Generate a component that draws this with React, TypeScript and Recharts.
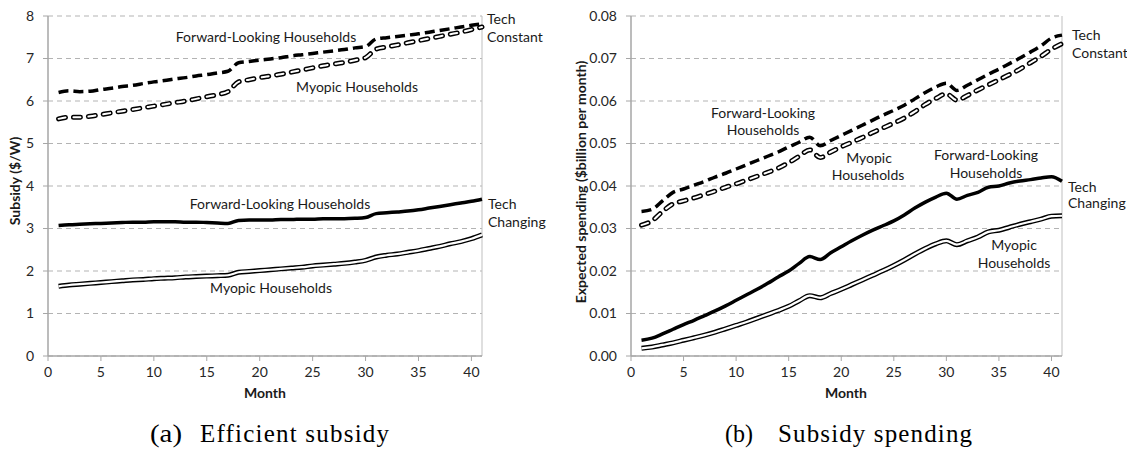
import React from 'react';
import { LineChart, Line, XAxis, YAxis, CartesianGrid, ReferenceLine } from 'recharts';

const months = [1,2,3,4,5,6,7,8,9,10,11,12,13,14,15,16,17,18,19,20,21,22,23,24,25,26,27,28,29,30,31,32,33,34,35,36,37,38,39,40,41];

// (a) Efficient subsidy ($/W)
const subFwdConst = [6.20,6.24,6.22,6.23,6.27,6.30,6.34,6.37,6.41,6.45,6.48,6.52,6.55,6.59,6.62,6.66,6.70,6.90,6.93,6.96,6.99,7.02,7.06,7.09,7.12,7.15,7.18,7.21,7.25,7.28,7.46,7.49,7.52,7.55,7.58,7.62,7.66,7.70,7.74,7.78,7.82];
const subMyoConst = [5.58,5.62,5.62,5.64,5.68,5.72,5.76,5.80,5.84,5.88,5.92,5.96,6.00,6.05,6.10,6.15,6.22,6.45,6.50,6.55,6.59,6.63,6.68,6.73,6.78,6.83,6.87,6.91,6.96,7.02,7.22,7.27,7.32,7.37,7.42,7.47,7.52,7.57,7.62,7.68,7.74];
const subFwdChg = [3.07,3.09,3.10,3.11,3.12,3.13,3.14,3.15,3.15,3.16,3.16,3.16,3.15,3.15,3.14,3.13,3.12,3.19,3.20,3.20,3.20,3.21,3.21,3.22,3.22,3.23,3.23,3.23,3.24,3.26,3.35,3.37,3.39,3.41,3.44,3.48,3.52,3.56,3.60,3.64,3.69];
const subMyoChg = [1.64,1.67,1.69,1.71,1.73,1.75,1.77,1.79,1.80,1.82,1.83,1.84,1.86,1.87,1.88,1.89,1.90,1.97,1.99,2.01,2.03,2.05,2.07,2.09,2.12,2.14,2.16,2.18,2.21,2.25,2.33,2.37,2.40,2.44,2.48,2.53,2.58,2.64,2.69,2.76,2.85];

// (b) Subsidy spending ($billion per month)
const spFwdConst = [0.0340,0.0345,0.0365,0.0385,0.0393,0.0402,0.0411,0.0421,0.0430,0.0440,0.0450,0.0460,0.0470,0.0480,0.0492,0.0503,0.0515,0.0495,0.0507,0.0519,0.0531,0.0543,0.0555,0.0567,0.0578,0.0590,0.0605,0.0620,0.0633,0.0642,0.0625,0.0637,0.0650,0.0663,0.0675,0.0688,0.0701,0.0715,0.0730,0.0748,0.0755];
const spMyoConst = [0.0308,0.0318,0.0340,0.0358,0.0365,0.0372,0.0380,0.0388,0.0397,0.0405,0.0414,0.0423,0.0432,0.0442,0.0455,0.0470,0.0485,0.0467,0.0480,0.0492,0.0503,0.0514,0.0526,0.0537,0.0548,0.0560,0.0575,0.0592,0.0606,0.0617,0.0602,0.0613,0.0626,0.0638,0.0650,0.0662,0.0675,0.0690,0.0705,0.0722,0.0735];
const spFwdChg = [0.0037,0.0042,0.0052,0.0063,0.0074,0.0084,0.0095,0.0106,0.0118,0.0131,0.0144,0.0157,0.0171,0.0186,0.0200,0.0218,0.0234,0.0227,0.0243,0.0257,0.0271,0.0284,0.0296,0.0307,0.0318,0.0332,0.0348,0.0362,0.0374,0.0383,0.0369,0.0378,0.0385,0.0397,0.0400,0.0407,0.0412,0.0415,0.0419,0.0422,0.0411];
const spMyoChg = [0.0018,0.0021,0.0026,0.0031,0.0037,0.0043,0.0049,0.0056,0.0064,0.0072,0.0080,0.0089,0.0098,0.0107,0.0117,0.0130,0.0142,0.0137,0.0147,0.0157,0.0168,0.0179,0.0190,0.0201,0.0213,0.0226,0.0240,0.0253,0.0264,0.0271,0.0262,0.0271,0.0280,0.0292,0.0296,0.0303,0.0310,0.0316,0.0322,0.0329,0.0330];

const xTicks = [0, 5, 10, 15, 20, 25, 30, 35, 40];
const subTicks = [0, 1, 2, 3, 4, 5, 6, 7, 8];
const spTicks = [0, 0.01, 0.02, 0.03, 0.04, 0.05, 0.06, 0.07, 0.08];

const subData = months.map((m, i) => ({ month: m, fc: subFwdConst[i], mc: subMyoConst[i], fg: subFwdChg[i], mg: subMyoChg[i] }));
const spData = months.map((m, i) => ({ month: m, fc: spFwdConst[i], mc: spMyoConst[i], fg: spFwdChg[i], mg: spMyoChg[i] }));

const FONT = 'Lato, "Open Sans", sans-serif';
const SERIF = '"Liberation Serif", serif';
const AX = '#a6a6a6';
const tickStyle = { fontFamily: FONT, fontSize: 14, fill: '#262626' };

function series() {
  return [
    <Line key="mc-o" dataKey="mc" type="monotone" stroke="#000" strokeWidth={5} strokeDasharray="7 8" strokeLinecap="round" dot={false} activeDot={false} isAnimationActive={false} />,
    <Line key="mc-i" dataKey="mc" type="monotone" stroke="#fff" strokeWidth={2} strokeDasharray="7 8" strokeLinecap="round" dot={false} activeDot={false} isAnimationActive={false} />,
    <Line key="fc" dataKey="fc" type="monotone" stroke="#000" strokeWidth={3.5} strokeDasharray="10 5" dot={false} activeDot={false} isAnimationActive={false} />,
    <Line key="mg-o" dataKey="mg" type="monotone" stroke="#000" strokeWidth={5} dot={false} activeDot={false} isAnimationActive={false} />,
    <Line key="mg-i" dataKey="mg" type="monotone" stroke="#fff" strokeWidth={2.2} dot={false} activeDot={false} isAnimationActive={false} />,
    <Line key="fg" dataKey="fg" type="monotone" stroke="#000" strokeWidth={3.5} dot={false} activeDot={false} isAnimationActive={false} />,
  ];
}

const T = (props: any) => <text fontFamily={FONT} fontSize={14} fill="#1a1a1a" {...props} />;
const B = (props: any) => <text fontFamily={FONT} fontSize={14} fontWeight="bold" fill="#1a1a1a" textAnchor="middle" {...props} />;

export default function App() {
  return (
    <div style={{ position: 'absolute', left: 0, top: 0, width: 1127, height: 449, background: '#fff' }}>
      <div style={{ position: 'absolute', left: 0, top: 0 }}>
        <LineChart width={560} height={400} data={subData} margin={{ top: 16, right: 78, bottom: 0, left: 0 }}>
          <CartesianGrid vertical={false} stroke="#b3b3b3" strokeDasharray="5 4" />
          <XAxis dataKey="month" type="number" domain={[0, 41]} ticks={xTicks} height={44} tick={tickStyle} tickSize={5} tickMargin={6} stroke={AX} axisLine={{ stroke: AX, strokeWidth: 1.5 }} />
          <YAxis type="number" domain={[0, 8]} ticks={subTicks} width={48} tick={tickStyle} tickSize={5} tickMargin={9} stroke={AX} axisLine={{ stroke: AX, strokeWidth: 1.5 }} />
          <ReferenceLine x={41} stroke="#bfbfbf" strokeWidth={1} />
          {series()}
        </LineChart>
      </div>
      <div style={{ position: 'absolute', left: 560, top: 0 }}>
        <LineChart width={567} height={400} data={spData} margin={{ top: 16, right: 65, bottom: 0, left: 0 }}>
          <CartesianGrid vertical={false} stroke="#b3b3b3" strokeDasharray="5 4" />
          <XAxis dataKey="month" type="number" domain={[0, 41]} ticks={xTicks} height={44} tick={tickStyle} tickSize={5} tickMargin={6} stroke={AX} axisLine={{ stroke: AX, strokeWidth: 1.5 }} />
          <YAxis type="number" domain={[0, 0.08]} ticks={spTicks} width={71} tick={tickStyle} tickSize={5} tickMargin={9} stroke={AX} axisLine={{ stroke: AX, strokeWidth: 1.5 }} tickFormatter={(v: number) => v.toFixed(2)} />
          <ReferenceLine x={41} stroke="#bfbfbf" strokeWidth={1} />
          {series()}
        </LineChart>
      </div>
      <svg width={1127} height={449} style={{ position: 'absolute', left: 0, top: 0, pointerEvents: 'none' }}>
        {/* panel (a) */}
        <T x={266} y={42} textAnchor="middle">Forward-Looking Households</T>
        <T x={357} y={92} textAnchor="middle">Myopic Households</T>
        <T x={487} y={24}>Tech</T>
        <T x={487} y={42}>Constant</T>
        <T x={280} y={209} textAnchor="middle">Forward-Looking Households</T>
        <T x={271} y={293} textAnchor="middle">Myopic Households</T>
        <T x={488} y={209}>Tech</T>
        <T x={488} y={227}>Changing</T>
        <B x={16} y={181} transform="rotate(-90 16 181)" dominantBaseline="middle">Subsidy ($/W)</B>
        <B x={265} y={398}>Month</B>
        <text x={150} y={442} fontFamily={SERIF} fontSize={25} fill="#000" textLength={32} lengthAdjust="spacingAndGlyphs">(a)</text>
        <text x={200} y={442} fontFamily={SERIF} fontSize={25} fill="#000" textLength={189} lengthAdjust="spacing">Efficient subsidy</text>
        {/* panel (b) */}
        <T x={763} y={118} textAnchor="middle">Forward-Looking</T>
        <T x={763} y={135} textAnchor="middle">Households</T>
        <T x={869} y={163} textAnchor="middle">Myopic</T>
        <T x={868} y={180} textAnchor="middle">Households</T>
        <T x={986} y={160} textAnchor="middle">Forward-Looking</T>
        <T x={986} y={178} textAnchor="middle">Households</T>
        <T x={1014} y={250} textAnchor="middle">Myopic</T>
        <T x={1014} y={268} textAnchor="middle">Households</T>
        <T x={1072} y={40}>Tech</T>
        <T x={1072} y={58}>Constant</T>
        <T x={1068} y={192}>Tech</T>
        <T x={1068} y={208}>Changing</T>
        <B x={582} y={182} transform="rotate(-90 582 182)" dominantBaseline="middle">Expected spending ($billion per month)</B>
        <B x={846} y={398}>Month</B>
        <text x={725} y={442} fontFamily={SERIF} fontSize={25} fill="#000" textLength={28} lengthAdjust="spacingAndGlyphs">(b)</text>
        <text x={778} y={442} fontFamily={SERIF} fontSize={25} fill="#000" textLength={194} lengthAdjust="spacing">Subsidy spending</text>
      </svg>
    </div>
  );
}
